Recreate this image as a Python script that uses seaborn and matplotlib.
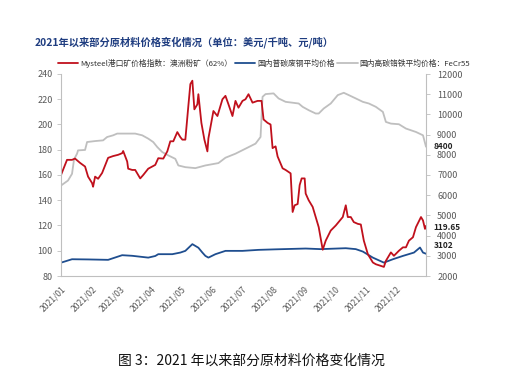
import matplotlib
matplotlib.use("Agg")
import matplotlib.pyplot as plt
import matplotlib.dates as mdates
import matplotlib.transforms as mtransforms
import seaborn as sns
import pandas as pd

# ---------------- data ----------------
ore_dates = ["2021-01-01", "2021-01-07", "2021-01-12", "2021-01-15", "2021-01-20", "2021-01-25",
             "2021-01-28", "2021-02-01", "2021-02-02", "2021-02-04", "2021-02-07", "2021-02-11",
             "2021-02-17", "2021-02-22", "2021-02-27", "2021-03-03", "2021-03-04", "2021-03-08",
             "2021-03-09", "2021-03-13", "2021-03-16", "2021-03-21", "2021-03-24", "2021-03-29",
             "2021-04-05", "2021-04-08", "2021-04-13", "2021-04-17", "2021-04-20", "2021-04-23",
             "2021-04-27", "2021-04-30", "2021-05-02", "2021-05-05", "2021-05-08", "2021-05-10",
             "2021-05-12", "2021-05-14", "2021-05-17", "2021-05-18", "2021-05-21", "2021-05-24",
             "2021-05-27", "2021-05-28", "2021-06-02", "2021-06-06", "2021-06-11", "2021-06-14",
             "2021-06-17", "2021-06-21", "2021-06-24", "2021-06-27", "2021-07-01", "2021-07-04",
             "2021-07-07", "2021-07-11", "2021-07-16", "2021-07-20", "2021-07-22", "2021-07-26",
             "2021-07-29", "2021-07-31", "2021-08-03", "2021-08-05", "2021-08-10", "2021-08-13",
             "2021-08-18", "2021-08-20", "2021-08-22", "2021-08-25", "2021-08-27", "2021-08-29",
             "2021-09-01", "2021-09-02", "2021-09-05", "2021-09-09", "2021-09-12", "2021-09-15",
             "2021-09-19", "2021-09-22", "2021-09-27", "2021-10-02", "2021-10-09", "2021-10-12",
             "2021-10-14", "2021-10-17", "2021-10-20", "2021-10-24", "2021-10-27", "2021-10-30",
             "2021-11-03", "2021-11-08", "2021-11-11", "2021-11-16", "2021-11-19", "2021-11-21",
             "2021-11-26", "2021-11-29", "2021-12-04", "2021-12-08", "2021-12-11", "2021-12-14",
             "2021-12-18", "2021-12-21", "2021-12-26", "2021-12-28", "2021-12-30", "2021-12-31"]
ore_values = [160, 172, 172, 173, 169.6, 166.7,
              158.7, 153.6, 150.7, 158.7, 157, 161.6,
              173.6, 175, 176, 177.3, 179, 170.7,
              165, 164, 164, 157.3, 160, 165,
              168, 173.3, 173, 178.7, 186.7, 186.7,
              194, 190, 188, 188, 214.7, 232,
              234.7, 212, 216, 224, 201.3, 188,
              178.7, 189, 210.7, 206.7, 220, 222.7,
              216, 206.7, 218.7, 213.3, 218.7, 220,
              224, 217.3, 218.7, 218.7, 204, 201.3,
              200, 181.3, 182.7, 174.7, 165.3, 164,
              161.3, 130.7, 136, 137, 152, 157.3,
              157.3, 145.3, 140, 134.7, 126.7, 118.7,
              100.8, 108, 116, 120, 126.7, 136,
              126.7, 126.7, 122.7, 121.3, 120.8, 108,
              97.3, 90.7, 89.3, 88, 87.2, 92,
              98.7, 96, 100, 102.7, 102.7, 108,
              110.7, 118.7, 126.7, 124, 117.3, 119.65]

scrap_dates = ["2021-01-01", "2021-01-12", "2021-01-28", "2021-02-17", "2021-03-03", "2021-03-13",
               "2021-03-29", "2021-04-05", "2021-04-08", "2021-04-22", "2021-04-30", "2021-05-05",
               "2021-05-12", "2021-05-18", "2021-05-22", "2021-05-25", "2021-05-28", "2021-06-04",
               "2021-06-14", "2021-07-01", "2021-07-17", "2021-08-03", "2021-09-02", "2021-09-17",
               "2021-10-12", "2021-10-22", "2021-10-29", "2021-11-08", "2021-11-19", "2021-11-28",
               "2021-12-08", "2021-12-19", "2021-12-25", "2021-12-28", "2021-12-31"]
scrap_values = [2660, 2830, 2820, 2800, 3030, 3000,
                2910, 2990, 3080, 3080, 3160, 3244,
                3577, 3400, 3160, 2995, 2910, 3080,
                3244, 3244, 3294, 3320, 3360, 3330,
                3376, 3330, 3210, 2910, 2662, 2830,
                2995, 3160, 3410, 3160, 3102]

fecr_dates = ["2021-01-01", "2021-01-08", "2021-01-12", "2021-01-14", "2021-01-17", "2021-01-18",
              "2021-01-25", "2021-01-27", "2021-02-04", "2021-02-12", "2021-02-16", "2021-02-22",
              "2021-02-26", "2021-03-16", "2021-03-23", "2021-03-29", "2021-04-03", "2021-04-07",
              "2021-04-12", "2021-04-18", "2021-04-25", "2021-04-28", "2021-05-05", "2021-05-15",
              "2021-05-25", "2021-06-07", "2021-06-14", "2021-06-24", "2021-07-04", "2021-07-14",
              "2021-07-19", "2021-07-21", "2021-07-24", "2021-08-01", "2021-08-06", "2021-08-13",
              "2021-08-26", "2021-08-30", "2021-09-05", "2021-09-12", "2021-09-15", "2021-09-20",
              "2021-09-27", "2021-10-04", "2021-10-10", "2021-10-15", "2021-10-22", "2021-10-29",
              "2021-11-04", "2021-11-11", "2021-11-18", "2021-11-21", "2021-11-26", "2021-12-04",
              "2021-12-11", "2021-12-21", "2021-12-28", "2021-12-31"]
fecr_values = [6478, 6727, 7060, 7771, 8055, 8219,
               8240, 8632, 8680, 8715, 8881, 8965,
               9050, 9050, 8965, 8800, 8630, 8384,
               8134, 7970, 7800, 7473, 7388, 7340,
               7473, 7590, 7855, 8055, 8303, 8553,
               8881, 10871, 11005, 11040, 10790, 10622,
               10540, 10374, 10209, 10044, 10044, 10292,
               10540, 10955, 11070, 10955, 10790, 10622,
               10540, 10374, 10124, 9627, 9545, 9513,
               9299, 9130, 8965, 8400]

left_ticks = [80, 100, 120, 140, 160, 180, 200, 220, 240]
right_ticks = [2000, 3000, 4000, 5000, 6000, 7000, 8000, 9000, 10000, 11000, 12000]
month_ticks = ["2021-01-01", "2021-02-01", "2021-03-01", "2021-04-01", "2021-05-01", "2021-06-01",
               "2021-07-01", "2021-08-01", "2021-09-01", "2021-10-01", "2021-11-01", "2021-12-01"]

labels = ["Mysteel港口矿价格指数：澳洲粉矿（62%）", "国内普碳废钢平均价格", "国内高碳铬铁平均价格：FeCr55"]
end_labels = ["119.65", "3102", "8400"]
title = "2021年以来部分原材料价格变化情况（单位：美元/千吨、元/吨）"
caption = "图 3：2021 年以来部分原材料价格变化情况"

# ---------------- style ----------------
sns.set_style("white")
plt.rcParams["font.family"] = ["Noto Sans CJK SC", "DejaVu Sans"]

RED = "#C0101C"
BLUE = "#1F4E8F"
GRAY = "#BFBFBF"
TICKC = "#595959"
SPINE = "#BFBFBF"

ore = pd.DataFrame({"date": pd.to_datetime(ore_dates), "value": ore_values})
scrap = pd.DataFrame({"date": pd.to_datetime(scrap_dates), "value": scrap_values})
fecr = pd.DataFrame({"date": pd.to_datetime(fecr_dates), "value": fecr_values})

fig = plt.figure(figsize=(5.09, 3.87), dpi=100)
ax = fig.add_axes([61 / 509, 1 - 276 / 387, (426 - 61) / 509, (276 - 74) / 387])
ax2 = ax.twinx()

sns.lineplot(data=fecr, x="date", y="value", ax=ax2, color=GRAY, linewidth=1.3, label=labels[2], legend=False)
sns.lineplot(data=scrap, x="date", y="value", ax=ax2, color=BLUE, linewidth=1.3, label=labels[1], legend=False)
sns.lineplot(data=ore, x="date", y="value", ax=ax, color=RED, linewidth=1.3, label=labels[0], legend=False)

ax.set_zorder(ax2.get_zorder() + 1)
ax.patch.set_visible(False)

ax.set_ylim(80, 240)
ax2.set_ylim(2000, 12000)
ax.set_yticks(left_ticks)
ax2.set_yticks(right_ticks)
ax.set_xlim(pd.Timestamp("2021-01-01"), pd.Timestamp("2021-12-31"))
ax.set_xticks(pd.to_datetime(month_ticks))
ax.xaxis.set_major_formatter(mdates.DateFormatter("%Y/%m"))
ax.set_xlabel("")
ax.set_ylabel("")
ax2.set_xlabel("")
ax2.set_ylabel("")

for a in (ax, ax2):
    for s in a.spines.values():
        s.set_color(SPINE)
        s.set_linewidth(0.8)
    a.spines["top"].set_visible(False)
ax.spines["right"].set_visible(False)
ax2.spines["left"].set_visible(False)
ax2.spines["bottom"].set_visible(False)

ax.tick_params(axis="y", labelsize=6.5, colors=TICKC, length=3, width=0.6, color=SPINE, direction="out", pad=3)
ax2.tick_params(axis="y", labelsize=6.5, colors=TICKC, length=3, width=0.6, color=SPINE, direction="out", pad=5)
ax.tick_params(axis="x", labelsize=6.2, colors=TICKC, length=3, width=0.6, color=SPINE, direction="out", pad=3)
for lab in ax.get_xticklabels():
    lab.set_rotation(45)
    lab.set_ha("right")
    lab.set_rotation_mode("anchor")

# end value labels (placed on right axis scale, nudged to avoid tick labels like the reference)
trans = mtransforms.blended_transform_factory(ax2.transAxes, ax2.transData)
ore_pos = 2000 + (ore_values[-1] - 80) / 160 * 10000 - 60
ax2.text(1.02, fecr_values[-1], end_labels[2], transform=trans, fontsize=6.0, fontweight="bold",
         va="center", ha="left", color="#222222")
ax2.text(1.02, ore_pos, end_labels[0], transform=trans, fontsize=6.0,
         fontweight="bold", va="center", ha="left", color="#222222")
ax2.text(1.02, scrap_values[-1] + 430, end_labels[1], transform=trans, fontsize=6.0, fontweight="bold",
         va="center", ha="left", color="#222222")

# legend
h1, l1 = ax.get_legend_handles_labels()
h2, l2 = ax2.get_legend_handles_labels()
hd = {l: h for h, l in zip(h1 + h2, l1 + l2)}
fig.legend([hd[l] for l in labels], labels, loc="center left", bbox_to_anchor=(58 / 509, 1 - 63 / 387),
           ncol=3, frameon=False, fontsize=5.6, handlelength=2.6, handletextpad=0.3, columnspacing=0.3,
           borderaxespad=0, borderpad=0, labelcolor="#333333")

fig.text(35 / 509, 1 - 42 / 387, title, fontsize=7.4, fontweight="bold", color="#1F3D80", va="center", ha="left")
fig.text(251 / 509, 1 - 361 / 387, caption, fontsize=10, color="#111111", va="center", ha="center")

fig.savefig("out.png", dpi=100)
